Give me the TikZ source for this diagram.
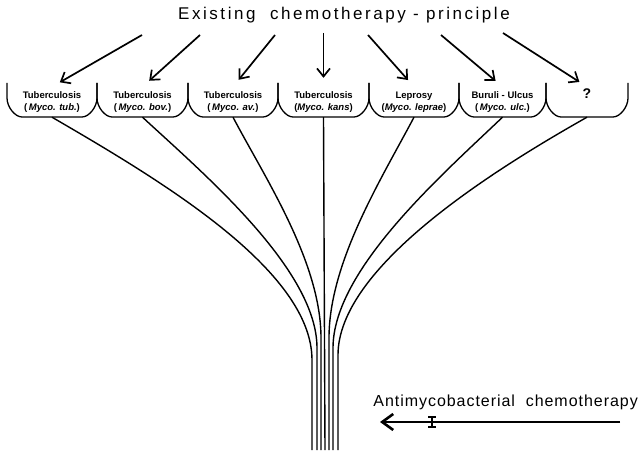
\documentclass[tikz,border=0pt]{standalone}
\usepackage{fontspec}
\setmainfont{Liberation Sans}
\newfontfamily\letterfont[LetterSpace=6]{Liberation Sans}
\newfontfamily\titlefont[LetterSpace=15]{Liberation Sans}
\usetikzlibrary{arrows.meta}
\def\boxframe(#1:#2){\draw[frame] (#1, 83) -- (#1, 98) .. controls (#1, 107) and ({#1+8}, 117) .. ({#1+15}, 117) -- ({#2-15}, 117) .. controls ({#2-8}, 117) and (#2, 107) .. (#2, 98) -- (#2, 83);}

\begin{document}
\begin{tikzpicture}[x=1pt, y=-1pt,
		frame/.style={line width=1.3pt, line join=round},
		fibre/.style={line width=1.4pt},
		pointer/.style={line width=1.7pt, -{Straight Barb[length=8pt, width=13pt]}, shorten >=9pt},
		label/.style={font=\bfseries\fontsize{9.5}{12}\selectfont, align=center, inner sep=0pt, minimum width=70pt, minimum height=30pt},
		heading/.style={font=\letterfont\fontsize{16}{18}\selectfont, inner sep=0pt}]
			%%%%% START %%%%%
			\useasboundingbox (0, 0) rectangle (642, 454);
			
			\node[heading, font=\titlefont\fontsize{17}{19}\selectfont, anchor=base] (title) at (344, 20) {Existing\ \ chemotherapy - principle};
			
			% the seven boxes
			\boxframe(7:97)
			\boxframe(97:188)
			\boxframe(188:278)
			\boxframe(278:369)
			\boxframe(369:459)
			\boxframe(459:546)
			\boxframe(546:628)
			
			\node[label] (tub1) at (52, 102) {Tuberculosis\\(\,\textit{Myco. tub.})};
			\node[label] (tub2) at (142.5, 102) {Tuberculosis\\(\,\textit{Myco. bov.})};
			\node[label] (tub3) at (233, 102) {Tuberculosis\\(\,\textit{Myco. av.})};
			\node[label] (tub4) at (323.5, 102) {Tuberculosis\\(\textit{Myco. kans})};
			\node[label] (lep) at (414, 102) {Leprosy\\(\textit{Myco. leprae})};
			\node[label] (bur) at (502.5, 102) {Buruli - Ulcus\\(\,\textit{Myco. ulc.})};
			\node[label] (unk) at (587, 102) {{\fontsize{14}{14}\selectfont ?}\\[5pt]\mbox{}};
			
			% pointers from the principle
			\coordinate (a1) at (142, 35);
			\coordinate (a2) at (200, 35);
			\coordinate (a3) at (275, 35);
			\coordinate (a4) at (323.5, 33);
			\coordinate (a5) at (368, 35);
			\coordinate (a6) at (441, 35);
			\coordinate (a7) at (503, 33);
			\draw[pointer] (a1) -- (tub1.north);
			\draw[pointer] (a2) -- (tub2.north);
			\draw[pointer] (a3) -- (tub3.north);
			\draw[pointer] (a4) -- (tub4.north);
			\draw[pointer] (a5) -- (lep.north);
			\draw[pointer] (a6) -- (bur.north);
			\draw[pointer] (a7) -- (unk.north);
			
			% the bundle
			\coordinate (f1) at (312, 450);
			\coordinate (f2) at (317, 450);
			\coordinate (f3) at (321, 450);
			\coordinate (f4) at (325, 450);
			\coordinate (f5) at (329, 450);
			\coordinate (f6) at (333, 450);
			\coordinate (f7) at (338, 450);
			\draw[fibre] (tub1.south) .. controls (160, 180) and (312, 270) .. (312, 360) -- (f1);
			\draw[fibre] (tub2.south) .. controls (205, 175) and (317, 270) .. (317, 348) -- (f2);
			\draw[fibre] (tub3.south) .. controls (265, 178) and (321, 262) .. (321, 338) -- (f3);
			\draw[fibre] (tub4.south) -- (f4);
			\draw[fibre] (lep.south) .. controls (382, 178) and (329, 262) .. (329, 338) -- (f5);
			\draw[fibre] (bur.south) .. controls (442, 175) and (333, 270) .. (333, 348) -- (f6);
			\draw[fibre] (unk.south) .. controls (490, 172) and (338, 268) .. (338, 355) -- (f7);
			
			\node[heading, anchor=base east] (chemo) at (638, 406) {Antimycobacterial\ \ chemotherapy};
			\coordinate (s) at (620, 422);
			\coordinate (e) at (380, 422);
			\draw[line width=2.6pt, -{Straight Barb[length=11pt, width=16pt]}] (s) -- (e);
			\draw[line width=1.2pt] (428, 417) -- (436, 417) (432, 417) -- (432, 427) (428, 427) -- (436, 427);
			
			%%%%% END %%%%%
\end{tikzpicture}
\end{document}
